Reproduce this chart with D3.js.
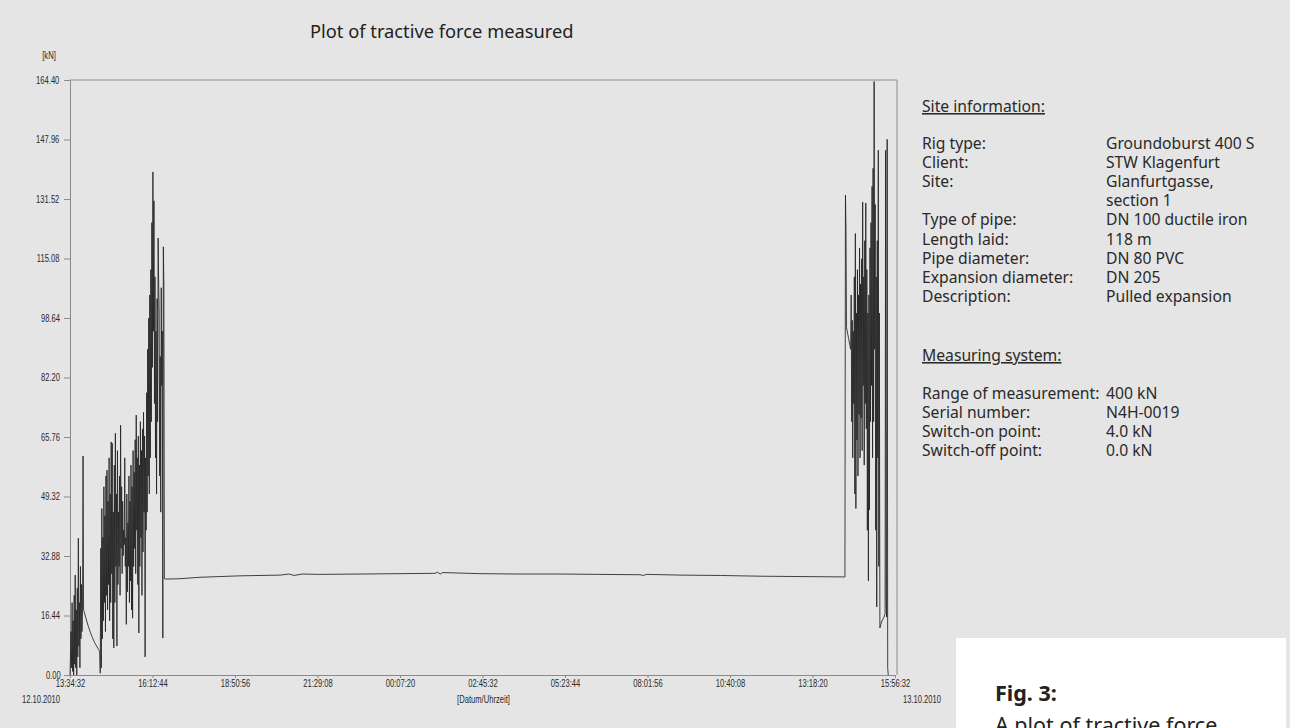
<!DOCTYPE html>
<html>
<head>
<meta charset="utf-8">
<title>Plot of tractive force measured</title>
<script src="https://cdn.jsdelivr.net/npm/d3@7"></script>
<style>
  html, body { margin: 0; padding: 0; background: #e5e5e5; }
  svg { display: block; }
  .axis text, .small {
    font-family: "Liberation Sans", Arial, sans-serif; font-size: 10px; fill: #2a2a2a;
    transform-box: fill-box; transform-origin: center; transform: scaleX(0.76);
  }
  .axis path, .axis line { stroke: #8a8a8a; }
  .info { font-family: "Noto Sans", sans-serif; font-size: 15.7px; fill: #2a2a2a; }
  .head { text-decoration: underline; }
</style>
</head>
<body>
<svg></svg>
<script>
// tick labels as printed by the logger software
var xTickLabels = ["13:34:32", "16:12:44", "18:50:56", "21:29:08", "00:07:20", "02:45:32",
                   "05:23:44", "08:01:56", "10:40:08", "13:18:20", "15:56:32"];
var yTickLabels = ["0.00", "16.44", "32.88", "49.32", "65.76", "82.20",
                   "98.64", "115.08", "131.52", "147.96", "164.40"];
var dateLabels = ["12.10.2010", "13.10.2010"];

// [minutes after 13:34:32, kN]
var rampUp = [[0,0],[2,12],[3,2],[4,20],[5,1],[6,15],[7,0],[8,22],[9,3],[10,27.6],[11,2],[12,18],
  [13,0],[14,24],[15,5],[16,37.8],[17,8],[18,20],[19,2],[20,30],[21,10],[22,25],[23,12],[24,18],
  [25,60.5],[26,18],[27,17.5],[31,15.5],[35,13.5],[39,11.8],[43,10.3],[47,9.0],[51,8.0],[55,7.0],
  [57,6.4],[58,0.5]];

// pulling phase, one reading per minute from minute 59
var pullStart = 59;
var pullForce = [35,2,46,10,38,15,52,20,44,12,55,22,56.6,18,48,25,60,15,50,20,
  64.4,28,64,10,45,7.5,58,20,66.8,30,50,8,62,25,45,30,55,22,69,35,
  52,28,48,33,40,36,60,30,38,14,50,23,42,30,55,20,48,26,58,18,
  52,15.7,62,30,56,35,65,28,71.8,40,60,25,66,11.6,58,30,70,38,62,22,
  68,34,72.6,45,66,5,60,40,78,45,90,55,98.6,50,105,60,112,70,125,85,
  139,95,131,75,110,60,95,50,104,70,120.7,108,100,55,88,45,107,80,95,10.2,
  118.3,108,26.8];

// idle overnight
var holdPhase = [[182,26.5],[211,26.6],[249,27.0],[326,27.4],[403,27.6],[420,27.9],[430,27.5],
  [445,27.9],[479,27.8],[556,27.9],[633,28.0],[700,28.1],[705,28.4],[710,27.9],[715,28.3],
  [786,28.0],[863,27.9],[940,27.9],[1016,27.8],[1093,27.7],[1100,27.5],[1105,27.8],[1170,27.6],
  [1247,27.5],[1323,27.3],[1400,27.2],[1484,27.1]];

// second pull on 13.10.
var finalPull = [[1486,27.1],[1487,132.6],[1488,123],[1489,96],[1493,93],[1497,90],
  [1498,105],[1499,70],[1500,98],[1501,60],[1502,95],[1503,75],[1504,110],[1505,50],[1506,122],
  [1507,46],[1508,100],[1509,65],[1510,112],[1511,55],[1512,105],[1513,72],[1514,118],[1515,60],
  [1516,108],[1517,71],[1518,115],[1519,62],[1520,130.7],[1521,80],[1522,110],[1523,58],[1524,120],
  [1525,75],[1526,130.4],[1527,68],[1528,112],[1529,40],[1530,100],[1531,26],[1532,105],[1533,45.6],
  [1534,118],[1535,70],[1536,125],[1537,80],[1538,135],[1539,60],[1540,140],[1541,70],[1542,164],
  [1543,90],[1544,130],[1545,40],[1546,110],[1547,18.8],[1548,120],[1549,60],[1550,145],[1551,30],
  [1552,100],[1553,13],[1555,14],[1557,15],[1559,15.5],[1561,16],[1563,17],[1564,145],[1565,20],
  [1566,16],[1567,148],[1568,2],[1569,0]];

var siteInfo = [["Rig type:", "Groundoburst 400 S"], ["Client:", "STW Klagenfurt"],
  ["Site:", "Glanfurtgasse,"], ["", "section 1"], ["Type of pipe:", "DN 100 ductile iron"],
  ["Length laid:", "118 m"], ["Pipe diameter:", "DN 80 PVC"], ["Expansion diameter:", "DN 205"],
  ["Description:", "Pulled expansion"]];
var measuring = [["Range of measurement:", "400 kN"], ["Serial number:", "N4H-0019"],
  ["Switch-on point:", "4.0 kN"], ["Switch-off point:", "0.0 kN"]];

var w = 1290, h = 728;
var svg = d3.select("svg").attr("width", w).attr("height", h);

// turn tick labels into dates, rolling over midnight
var day = 12, prev = -1;
var tickDates = xTickLabels.map(function (s) {
    var p = s.split(":").map(Number), secs = p[0] * 3600 + p[1] * 60 + p[2];
    if (secs < prev) day++;
    prev = secs;
    return new Date(2010, 9, day, p[0], p[1], p[2]);
});
var t0 = tickDates[0];

var x = d3.scaleTime().domain([t0, tickDates[tickDates.length - 1]]).range([70, 895]);
var y = d3.scaleLinear().domain([0, +yTickLabels[yTickLabels.length - 1]]).range([675, 80]);

function toPoint(d) { return {t: new Date(+t0 + d[0] * 60000), v: d[1]}; }
var points = rampUp.map(toPoint)
    .concat(pullForce.map(function (v, i) { return toPoint([pullStart + i, v]); }))
    .concat(holdPhase.map(toPoint))
    .concat(finalPull.map(toPoint));

// frame top and right
svg.append("path")
    .attr("d", "M" + x.range()[0] + "," + y(y.domain()[1]) + "H" + (x.range()[1] + 2) + "V" + y(0))
    .attr("fill", "none").attr("stroke", "#8a8a8a");

svg.append("g").attr("class", "axis")
    .attr("transform", "translate(" + x.range()[0] + ",0)")
    .call(d3.axisLeft(y).tickValues(yTickLabels.map(Number))
        .tickFormat(function (d, i) { return yTickLabels[i]; })
        .tickSize(6).tickSizeOuter(0).tickPadding(1));

svg.append("g").attr("class", "axis")
    .attr("transform", "translate(0," + y(0) + ")")
    .call(d3.axisBottom(x).tickValues(tickDates)
        .tickFormat(function (d, i) { return xTickLabels[i]; })
        .tickSize(3).tickSizeOuter(0).tickPadding(2));

svg.append("text").attr("class", "small").attr("x", 49).attr("y", 59)
    .attr("text-anchor", "middle").text("[kN]");
svg.append("text").attr("class", "small").attr("x", 41).attr("y", 703)
    .attr("text-anchor", "middle").text(dateLabels[0]);
svg.append("text").attr("class", "small").attr("x", 922).attr("y", 703)
    .attr("text-anchor", "middle").text(dateLabels[1]);
svg.append("text").attr("class", "small").attr("x", d3.mean(x.range().map(Number)) + 1).attr("y", 703)
    .attr("text-anchor", "middle").text("[Datum/Uhrzeit]");

var line = d3.line()
    .x(function (d) { return x(d.t); })
    .y(function (d) { return y(d.v); });

svg.append("path").datum(points)
    .attr("d", line)
    .attr("fill", "none")
    .attr("stroke", "#222")
    .attr("stroke-width", 0.85)
    .attr("stroke-linejoin", "miter");

svg.append("text").attr("x", 310).attr("y", 38)
    .style("font-family", "'Noto Sans', sans-serif").style("font-size", "18.3px").style("fill", "#222")
    .text("Plot of tractive force measured");

// site panel
var colA = 922, colB = 1106, step = 19.1;
svg.append("text").attr("class", "info head").attr("x", colA).attr("y", 112).text("Site information:");
siteInfo.forEach(function (r, i) {
    var yy = 149 + i * step;
    svg.append("text").attr("class", "info").attr("x", colA).attr("y", yy).text(r[0]);
    svg.append("text").attr("class", "info").attr("x", colB).attr("y", yy).text(r[1]);
});
svg.append("text").attr("class", "info head").attr("x", colA).attr("y", 361).text("Measuring system:");
measuring.forEach(function (r, i) {
    var yy = 399 + i * step;
    svg.append("text").attr("class", "info").attr("x", colA).attr("y", yy).text(r[0]);
    svg.append("text").attr("class", "info").attr("x", colB).attr("y", yy).text(r[1]);
});

// caption box
svg.append("rect").attr("x", 956).attr("y", 638).attr("width", 330).attr("height", 95).attr("fill", "#fff");
svg.append("text").attr("x", 995).attr("y", 701)
    .style("font-family", "'Noto Sans', sans-serif").style("font-size", "21.5px").style("font-weight", "bold").style("fill", "#222")
    .text("Fig. 3:");
svg.append("text").attr("x", 995).attr("y", 733)
    .style("font-family", "'Noto Sans', sans-serif").style("font-size", "21.5px").style("fill", "#222")
    .text("A plot of tractive force");
</script>
</body>
</html>
